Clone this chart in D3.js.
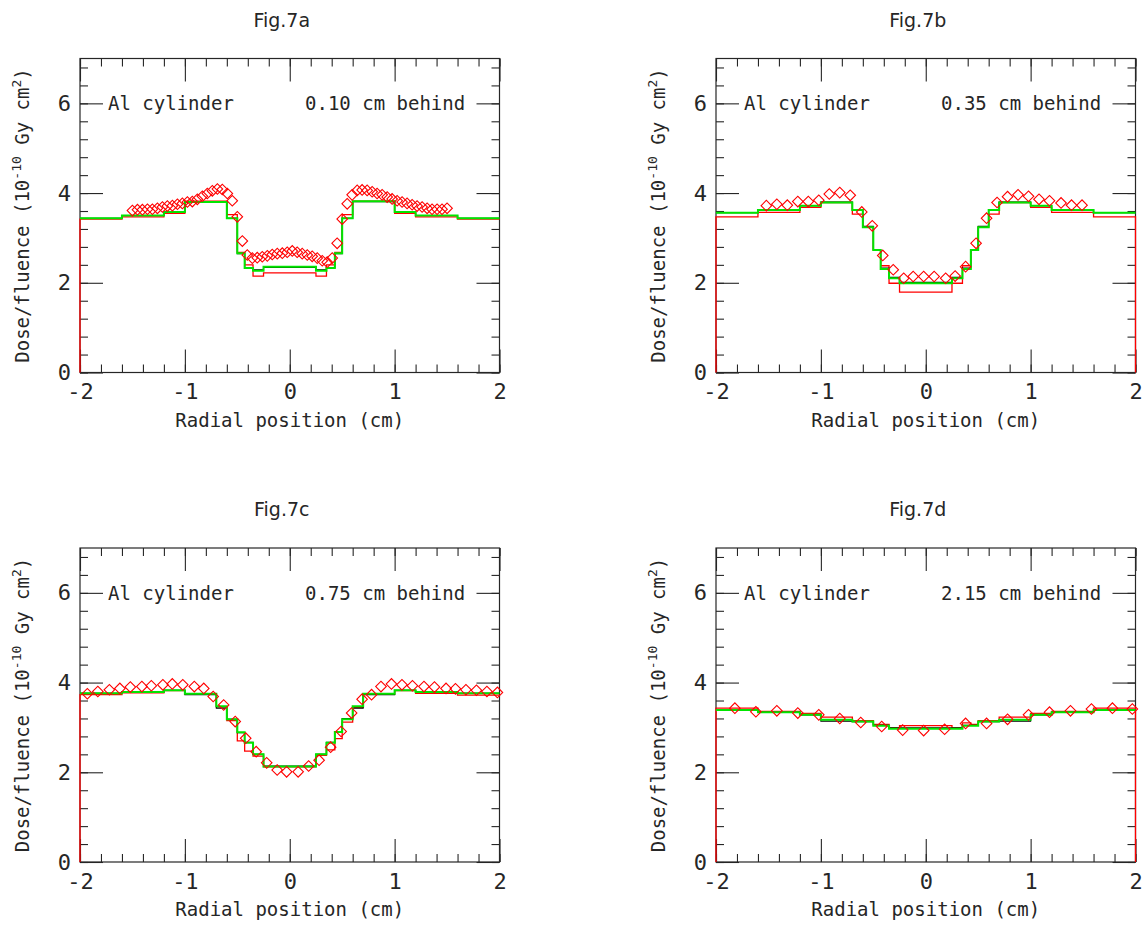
<!DOCTYPE html>
<html><head><meta charset="utf-8">
<script src="https://cdn.jsdelivr.net/npm/d3@7"></script>
<style>body{margin:0;background:#fff} svg{display:block}</style>
</head><body>
<svg id="c" width="1147" height="926"></svg>
<script>
// ---------- data ----------
const panelTitles = ["Fig.7a", "Fig.7b", "Fig.7c", "Fig.7d"];
const materialLabel = "Al cylinder";
const depthLabels = ["0.10 cm behind", "0.35 cm behind", "0.75 cm behind", "2.15 cm behind"];
const xLabel = "Radial position (cm)";
const xTicks = [-2, -1, 0, 1, 2];
const yTicks = [0, 2, 4, 6];
const xDomain = [-2, 2];
const yDomain = [0, 7];

// histogram bin edges (cm), shared by all panels
const binEdges = [-2, -1.6, -1.2, -1.0, -0.7, -0.6, -0.5, -0.43, -0.35, -0.25, 0.25, 0.35, 0.43, 0.5, 0.6, 0.7, 1.0, 1.2, 1.6, 2];

// Fig.7a
const redA   = [3.42,3.47,3.55,3.82,3.82,3.52,2.68,2.40,2.15,2.22,2.15,2.40,2.68,3.52,3.82,3.82,3.55,3.47,3.42];
const blackA = [3.44,3.50,3.58,3.80,3.80,3.44,2.65,2.34,2.29,2.34,2.29,2.34,2.65,3.44,3.81,3.81,3.58,3.50,3.44];
const greenA = [3.44,3.50,3.58,3.80,3.80,3.44,2.66,2.33,2.27,2.36,2.27,2.33,2.66,3.44,3.82,3.82,3.58,3.50,3.44];
const markerXA = [-1.500,-1.452,-1.405,-1.357,-1.310,-1.262,-1.214,-1.167,-1.119,-1.071,-1.024,-0.976,-0.929,-0.881,-0.833,-0.786,
  -0.738,-0.690,-0.643,-0.595,-0.548,-0.500,-0.452,-0.405,-0.357,-0.310,-0.262,-0.214,-0.167,-0.119,-0.071,-0.024,
  0.024,0.071,0.119,0.167,0.214,0.262,0.310,0.357,0.405,0.452,0.500,0.548,0.595,0.643,0.690,0.738,
  0.786,0.833,0.881,0.929,0.976,1.024,1.071,1.119,1.167,1.214,1.262,1.310,1.357,1.405,1.452,1.500];
const markerYA = [3.61,3.63,3.63,3.64,3.64,3.66,3.69,3.71,3.72,3.75,3.77,3.80,3.81,3.86,3.93,3.99,
  4.05,4.09,4.08,3.99,3.83,3.47,2.93,2.62,2.55,2.56,2.58,2.60,2.63,2.65,2.66,2.68,
  2.71,2.68,2.65,2.62,2.59,2.55,2.49,2.46,2.55,2.88,3.42,3.76,3.96,4.06,4.07,4.06,
  4.03,3.99,3.96,3.91,3.87,3.83,3.80,3.77,3.74,3.71,3.69,3.66,3.64,3.64,3.64,3.66];

// Fig.7b
const redB   = [3.47,3.57,3.68,3.79,3.53,3.24,2.73,2.38,1.99,1.79,1.99,2.38,2.73,3.24,3.53,3.79,3.68,3.57,3.47];
const blackB = [3.56,3.62,3.72,3.80,3.63,3.26,2.73,2.33,2.12,2.01,2.12,2.33,2.73,3.26,3.63,3.80,3.72,3.62,3.56];
const greenB = [3.56,3.62,3.72,3.79,3.62,3.24,2.73,2.31,2.10,1.99,2.10,2.31,2.73,3.24,3.62,3.79,3.72,3.62,3.56];
const markerXB = [-1.52,-1.42,-1.32,-1.22,-1.12,-1.02,-0.92,-0.82,-0.72,-0.61,-0.51,-0.41,-0.31,-0.21,-0.12,-0.02,
  0.08,0.19,0.28,0.38,0.48,0.58,0.68,0.78,0.88,0.98,1.08,1.18,1.29,1.39,1.49];
const markerYB = [3.72,3.75,3.73,3.81,3.81,3.84,3.98,4.01,3.95,3.58,3.27,2.61,2.29,2.10,2.14,2.14,
  2.14,2.10,2.15,2.36,2.88,3.44,3.79,3.92,3.96,3.93,3.86,3.83,3.78,3.73,3.73];

// Fig.7c
const redC   = [3.73,3.77,3.82,3.75,3.46,3.15,2.70,2.47,2.36,2.12,2.38,2.50,2.75,3.12,3.45,3.74,3.82,3.76,3.72];
const blackC = [3.76,3.79,3.83,3.73,3.43,3.18,2.88,2.67,2.40,2.14,2.40,2.67,2.90,3.20,3.43,3.73,3.83,3.79,3.76];
const greenC = [3.76,3.79,3.83,3.75,3.47,3.18,2.89,2.66,2.40,2.13,2.40,2.66,2.90,3.18,3.47,3.75,3.83,3.79,3.76];
const markerXC = [-1.93,-1.83,-1.72,-1.62,-1.52,-1.41,-1.32,-1.21,-1.12,-1.02,-0.91,-0.82,-0.73,-0.63,-0.52,-0.42,-0.32,-0.22,-0.12,-0.03,
  0.08,0.18,0.28,0.39,0.49,0.59,0.69,0.78,0.87,0.97,1.07,1.17,1.28,1.38,1.49,1.58,1.68,1.78,1.88,1.98];
const markerYC = [3.75,3.80,3.84,3.87,3.90,3.91,3.93,3.95,3.97,3.95,3.91,3.87,3.69,3.50,3.13,2.76,2.46,2.21,2.05,2.01,
  2.01,2.14,2.27,2.56,2.91,3.32,3.63,3.73,3.91,3.97,3.95,3.93,3.91,3.90,3.87,3.86,3.84,3.83,3.80,3.78];

// Fig.7d
const redD   = [3.43,3.36,3.31,3.23,3.15,3.15,3.07,3.07,2.99,3.04,2.99,3.10,3.07,3.15,3.15,3.23,3.31,3.36,3.43];
const blackD = [3.39,3.34,3.28,3.14,3.13,3.13,3.05,3.05,2.99,2.99,2.99,3.05,3.05,3.13,3.13,3.14,3.28,3.34,3.39];
const greenD = [3.39,3.34,3.28,3.17,3.13,3.13,3.04,3.04,2.97,2.97,2.97,3.04,3.04,3.13,3.13,3.17,3.28,3.34,3.39];
const markerXD = [-1.82,-1.62,-1.42,-1.22,-1.02,-0.82,-0.62,-0.42,-0.22,-0.02,0.18,0.38,0.58,0.78,0.98,1.18,1.38,1.58,1.78,1.97];
const markerYD = [3.43,3.35,3.37,3.32,3.28,3.20,3.11,3.02,2.94,2.93,2.96,3.09,3.09,3.18,3.28,3.34,3.37,3.41,3.43,3.41];

// red histogram drops back to zero at the right edge in panels b and d
const redDropRight = [false, true, false, true];

// ---------- drawing ----------
const panels = [
  {red: redA, black: blackA, green: greenA, mx: markerXA, my: markerYA},
  {red: redB, black: blackB, green: greenB, mx: markerXB, my: markerYB},
  {red: redC, black: blackC, green: greenC, mx: markerXC, my: markerYC},
  {red: redD, black: blackD, green: greenD, mx: markerXD, my: markerYD}
];
const layout = [{left: 80, top: 58.5}, {left: 716, top: 58.5}, {left: 80, top: 548}, {left: 716, top: 548}];
const W = 419.5, H = 314;
const MONO = "'DejaVu Sans Mono', monospace";
const SANS = "'DejaVu Sans', sans-serif";
const INK = "#262626";

const svg = d3.select("#c");
const xMinor = d3.range(-10, 11).map(v => v / 5);
const yMinor = d3.range(0, 18).map(v => v * 0.4);

function styleAxis(sel) {
  sel.select(".domain").remove();
  sel.selectAll(".tick line").attr("stroke", INK).attr("stroke-width", 1.1);
  sel.selectAll("text").attr("font-family", MONO).attr("font-size", 22).attr("fill", INK);
}

panels.forEach((p, i) => {
  const L = layout[i];
  const x = d3.scaleLinear().domain(xDomain).range([L.left, L.left + W]);
  const y = d3.scaleLinear().domain(yDomain).range([L.top + H, L.top]);
  const g = svg.append("g");
  const bottom = L.top + H, right = L.left + W;

  // axes (inward ticks on all four sides)
  g.append("g").attr("transform", `translate(0,${bottom})`)
    .call(d3.axisBottom(x).tickValues(xMinor).tickSize(-8).tickFormat("")).call(styleAxis);
  g.append("g").attr("transform", `translate(0,${bottom})`)
    .call(d3.axisBottom(x).tickValues(xTicks).tickSize(-23).tickPadding(11).tickFormat(d => String(d))).call(styleAxis);
  g.append("g").attr("transform", `translate(0,${L.top})`)
    .call(d3.axisTop(x).tickValues(xMinor).tickSize(-8).tickFormat("")).call(styleAxis);
  g.append("g").attr("transform", `translate(0,${L.top})`)
    .call(d3.axisTop(x).tickValues(xTicks).tickSize(-23).tickFormat("")).call(styleAxis);
  g.append("g").attr("transform", `translate(${L.left},0)`)
    .call(d3.axisLeft(y).tickValues(yMinor).tickSize(-8).tickFormat("")).call(styleAxis);
  g.append("g").attr("transform", `translate(${L.left},0)`)
    .call(d3.axisLeft(y).tickValues(yTicks).tickSize(-23).tickPadding(9).tickFormat(d => String(d))).call(styleAxis);
  g.append("g").attr("transform", `translate(${right},0)`)
    .call(d3.axisRight(y).tickValues(yMinor).tickSize(-8).tickFormat("")).call(styleAxis);
  g.append("g").attr("transform", `translate(${right},0)`)
    .call(d3.axisRight(y).tickValues(yTicks).tickSize(-23).tickFormat("")).call(styleAxis);

  g.append("rect").attr("x", L.left).attr("y", L.top).attr("width", W).attr("height", H)
    .attr("fill", "none").attr("stroke", INK).attr("stroke-width", 1.2);

  // step histograms
  const line = d3.line().x(d => x(d[0])).y(d => y(d[1]));
  function steps(vals, dropLeft, dropRight) {
    const pts = [];
    if (dropLeft) pts.push([binEdges[0], 0]);
    vals.forEach((v, k) => { pts.push([binEdges[k], v]); pts.push([binEdges[k + 1], v]); });
    if (dropRight) pts.push([binEdges[binEdges.length - 1], 0]);
    return pts;
  }
  g.append("path").attr("d", line(steps(p.red, true, redDropRight[i])))
    .attr("fill", "none").attr("stroke", "#ff0000").attr("stroke-width", 1.3);
  g.append("path").attr("d", line(steps(p.black, false, false)))
    .attr("fill", "none").attr("stroke", "#000").attr("stroke-width", 1.1);
  g.append("path").attr("d", line(steps(p.green, false, false)))
    .attr("fill", "none").attr("stroke", "#00e600").attr("stroke-width", 2);

  // open diamonds
  const sym = d3.symbol(d3.symbolSquare, 56);
  g.selectAll("path.mk").data(p.mx.map((v, k) => [v, p.my[k]])).join("path")
    .attr("class", "mk")
    .attr("d", sym)
    .attr("transform", d => `translate(${x(d[0])},${y(d[1])}) rotate(45)`)
    .attr("fill", "none").attr("stroke", "#ff0000").attr("stroke-width", 1.1);

  // texts
  g.append("text").attr("x", (L.left + right) / 2 - 8).attr("y", L.top - 32)
    .attr("text-anchor", "middle").attr("font-family", SANS).attr("font-size", 19).attr("fill", INK)
    .text(panelTitles[i]);
  g.append("text").attr("x", L.left + 28).attr("y", y(6) + 7)
    .attr("font-family", MONO).attr("font-size", 19).attr("fill", INK).text(materialLabel);
  g.append("text").attr("x", L.left + 225).attr("y", y(6) + 7)
    .attr("font-family", MONO).attr("font-size", 19).attr("fill", INK).text(depthLabels[i]);
  g.append("text").attr("x", (L.left + right) / 2).attr("y", bottom + 54)
    .attr("text-anchor", "middle").attr("font-family", MONO).attr("font-size", 19).attr("fill", INK).text(xLabel);

  const yl = g.append("text")
    .attr("transform", `translate(${L.left - 51},${(L.top + bottom) / 2}) rotate(-90)`)
    .attr("text-anchor", "middle").attr("font-family", MONO).attr("font-size", 19).attr("fill", INK);
  yl.append("tspan").text("Dose/fluence (10");
  yl.append("tspan").attr("dy", -8).attr("font-size", 13).text("-10");
  yl.append("tspan").attr("dy", 8).text(" Gy cm");
  yl.append("tspan").attr("dy", -8).attr("font-size", 13).text("2");
  yl.append("tspan").attr("dy", 8).text(")");
});
</script>
</body></html>
